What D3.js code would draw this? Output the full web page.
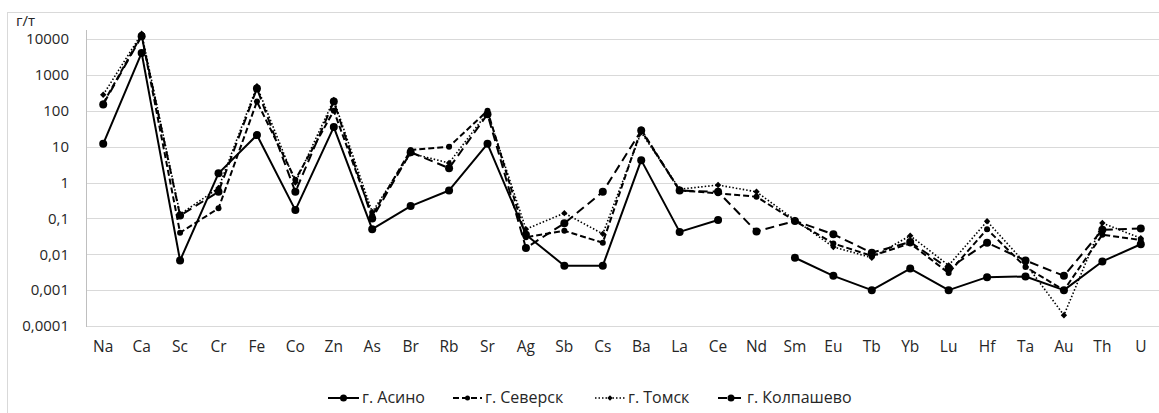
<!DOCTYPE html>
<html><head><meta charset="utf-8">
<script src="https://cdn.jsdelivr.net/npm/d3@7"></script>
<style>
body{margin:0;background:#fff;}
svg{display:block;font-family:"Open Sans",sans-serif;}
</style></head>
<body><svg id="chart" width="1159" height="413"></svg>
<script>
const categories = ["Na","Ca","Sc","Cr","Fe","Co","Zn","As","Br","Rb","Sr","Ag","Sb","Cs","Ba","La","Ce","Nd","Sm","Eu","Tb","Yb","Lu","Hf","Ta","Au","Th","U"];
const asino    = [12, 4100, 0.0067, 1.8, 21, 0.17, 35, 0.05, 0.22, 0.6, 12, 0.035, 0.0048, 0.0048, 4.2, 0.042, 0.09, null, 0.008, 0.0025, 0.001, 0.004, 0.001, 0.0023, 0.0024, 0.001, 0.0063, 0.019];
const seversk  = [160, 13000, 0.04, 0.19, 180, 1.2, 100, 0.12, 8, 10, 100, 0.03, 0.045, 0.021, 30, 0.6, 0.5, 0.4, 0.085, 0.02, 0.009, 0.02, 0.003, 0.05, 0.0044, 0.001, 0.035, 0.025];
const tomsk    = [280, 14000, 0.13, 0.7, 480, 1.0, 200, 0.15, 6.5, 3.5, 90, 0.05, 0.14, 0.037, 25, 0.65, 0.85, 0.55, 0.09, 0.016, 0.008, 0.033, 0.0049, 0.083, 0.0055, 0.0002, 0.074, 0.028];
const kolpashevo = [150, 12000, 0.12, 0.55, 420, 0.55, 180, 0.1, 7, 2.5, 80, 0.015, 0.073, 0.55, 28, 0.6, 0.55, 0.043, 0.085, 0.036, 0.011, 0.022, 0.004, 0.021, 0.0067, 0.0025, 0.048, 0.052];
const seriesNames = ["г. Асино","г. Северск","г. Томск","г. Колпашево"];
const yTickValues = [0.0001,0.001,0.01,0.1,1,10,100,1000,10000];
const yTickLabels = ["0,0001","0,001","0,01","0,1","1","10","100","1000","10000"];
const unitLabel = "г/т";

const series = [
  {name: seriesNames[0], values: asino,      dash: null,    width: 2,   marker: "circle", r: 4},
  {name: seriesNames[1], values: seversk,    dash: "6,3",   width: 2,   marker: "circle", r: 3},
  {name: seriesNames[2], values: tomsk,      dash: "1.5,2", width: 1.6, marker: "diamond", r: 3.2},
  {name: seriesNames[3], values: kolpashevo, dash: "9,5",   width: 2,   marker: "circle", r: 4}
];

const svg = d3.select("#chart");
svg.append("rect").attr("x",7.5).attr("y",12.5).attr("width",1170).attr("height",420)
  .attr("fill","none").attr("stroke","#d9d9d9");

const x = d3.scaleBand().domain(categories).range([84,1160]);
const cx = c => x(c) + x.bandwidth()/2;
const y = d3.scaleLog().domain([0.0001,10000]).range([326,39]);

// gridlines
svg.append("g").selectAll("line").data(yTickValues).join("line")
  .attr("x1",86).attr("x2",1159).attr("y1",d=>Math.round(y(d))+0.5).attr("y2",d=>Math.round(y(d))+0.5)
  .attr("stroke","#d9d9d9").attr("stroke-width",1.2);
svg.append("line").attr("x1",86.5).attr("x2",86.5).attr("y1",30).attr("y2",327)
  .attr("stroke","#bfbfbf").attr("stroke-width",1);

// y axis labels
const yAxis = d3.axisLeft(y).tickValues(yTickValues).tickSize(0).tickPadding(0)
  .tickFormat((d,i)=>yTickLabels[i]);
const gy = svg.append("g").attr("transform","translate(69,0)").call(yAxis);
gy.select(".domain").remove();
gy.selectAll("text").attr("font-size",15).attr("fill","#262626").attr("font-family","Open Sans");

svg.append("text").attr("x",16).attr("y",26).attr("font-size",15).attr("fill","#262626").text(unitLabel);

// x axis labels
const xAxis = d3.axisBottom(x).tickSize(0).tickPadding(0);
const gx = svg.append("g").attr("transform","translate(0,341)").call(xAxis);
gx.select(".domain").remove();
gx.selectAll("text").attr("font-size",15.5).attr("fill","#262626").attr("font-family","Open Sans");

function drawMarker(g, type, r){
  if(type==="diamond"){
    g.append("path").attr("d",`M0,${-r}L${r},0L0,${r}L${-r},0Z`).attr("fill","#000");
  } else {
    g.append("circle").attr("r",r).attr("fill","#000");
  }
}

const line = d3.line().defined(d=>d.v!=null).x(d=>cx(d.c)).y(d=>y(d.v));
series.forEach(s=>{
  const pts = categories.map((c,i)=>({c, v: s.values[i]}));
  svg.append("path").datum(pts).attr("d",line).attr("fill","none")
    .attr("stroke","#000").attr("stroke-width",s.width)
    .attr("stroke-dasharray",s.dash).attr("stroke-linejoin","round");
  pts.filter(d=>d.v!=null).forEach(d=>{
    const g = svg.append("g").attr("transform",`translate(${cx(d.c)},${y(d.v)})`);
    drawMarker(g, s.marker, s.r);
  });
});

// legend
const legendItems = [
  {x:328, tx:362},
  {x:453, tx:485},
  {x:595, tx:628},
  {x:718, tx:747}
];
series.forEach((s,i)=>{
  const L = legendItems[i];
  const g = svg.append("g");
  g.append("line").attr("x1",L.x).attr("x2",L.tx-3).attr("y1",398).attr("y2",398)
    .attr("stroke","#000").attr("stroke-width",s.width).attr("stroke-dasharray",s.dash);
  const m = g.append("g").attr("transform",`translate(${(L.x+L.tx-3)/2},398)`);
  drawMarker(m, s.marker, s.r-0.5);
  g.append("text").attr("x",L.tx).attr("y",403).attr("font-size",16).attr("fill","#262626").text(s.name);
});
</script></body></html>
